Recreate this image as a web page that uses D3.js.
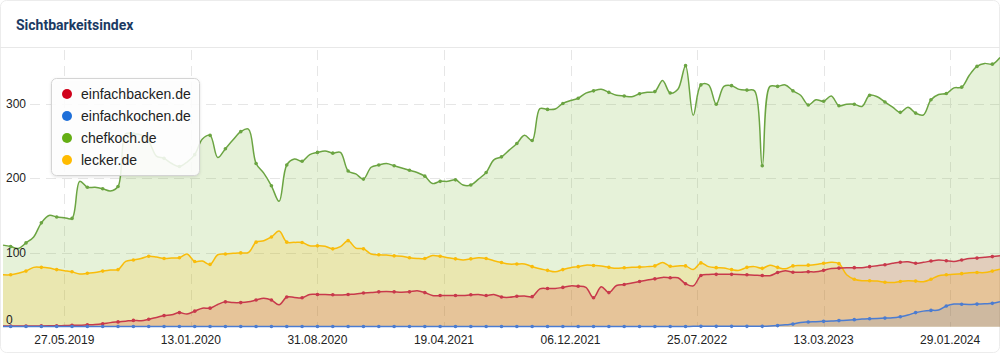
<!DOCTYPE html>
<html lang="de">
<head>
  <meta charset="UTF-8">
  <title>Sichtbarkeitsindex - D3</title>
  <script src="https://d3js.org/d3.v7.min.js"></script>
  <style>
    body {
      margin: 0;
      background-color: #fff;
    }
    svg { display: block; }

    .title {
      font-family: Roboto, "Liberation Sans", sans-serif;
      font-size: 14px;
      font-weight: bold;
      fill: #1b3a63;
    }

    .axis text {
      font-family: "Liberation Sans", Arial, sans-serif;
      font-size: 12px;
      fill: #222;
    }

    .grid line {
      stroke: #e6e6e6;
      stroke-dasharray: 10, 6;
    }

    .legend text {
      font-family: "Liberation Sans", Arial, sans-serif;
      font-size: 14px;
      fill: #222;
    }
  </style>
</head>
<body>
<script>
  // one sample every second week, weeks counted from the first data point
  var weeks = d3.range(0, 261, 2);

  var tickWeeks = [16, 49, 82, 115, 148, 181, 214, 247];
  var tickLabels = ["27.05.2019", "13.01.2020", "31.08.2020", "19.04.2021",
                    "06.12.2021", "25.07.2022", "13.03.2023", "29.01.2024"];
  var yTicks = [0, 100, 200, 300];

  var names = ["einfachbacken.de", "einfachkochen.de", "chefkoch.de", "lecker.de"];

  var einfachbacken = [
    0.8, 0.8, 0.9, 1, 1, 1.1, 1.2, 1.3, 1.5, 1.8,
    2, 2.5, 3, 4, 5.5, 6.5, 7.5, 8.5, 8, 10,
    12.5, 15, 16, 19, 17, 21, 25, 25, 30, 33.5,
    32.5, 32.5, 33.5, 36, 38.5, 36, 29.5, 40, 39.5, 39,
    43.5, 43.5, 43.5, 43, 42.7, 43.5, 44, 45.5, 46, 47,
    47.5, 47, 46.5, 47, 48.5, 46, 42, 42, 42, 42,
    42, 43, 43.5, 42, 43.5, 40, 39.6, 41, 41.5, 40.5,
    51, 51.5, 51.5, 53, 55, 54.5, 53, 39, 54, 46,
    55.5, 57, 59, 61, 63, 64.5, 66.5, 66, 66, 58,
    55, 69, 70.5, 70.6, 70.6, 70.6, 70.5, 70, 69.5, 69,
    68.8, 73, 75.5, 73.5, 73.5, 74, 74, 76, 78.5, 79,
    79.5, 79.6, 79.6, 81, 82.3, 83.5, 85.4, 87, 87.5, 85.5,
    86.8, 88.5, 90, 89, 88, 90, 92, 92.5, 93.5, 94.5,
    95.5
  ];

  var einfachkochen = [
    0.3, 0.3, 0.3, 0.3, 0.3, 0.3, 0.3, 0.3, 0.3, 0.3,
    0.3, 0.3, 0.3, 0.3, 0.3, 0.3, 0.3, 0.3, 0.3, 0.3,
    0.3, 0.3, 0.3, 0.3, 0.3, 0.3, 0.3, 0.3, 0.3, 0.3,
    0.3, 0.3, 0.3, 0.3, 0.3, 0.3, 0.3, 0.3, 0.3, 0.3,
    0.3, 0.3, 0.3, 0.3, 0.3, 0.3, 0.3, 0.3, 0.3, 0.3,
    0.3, 0.3, 0.3, 0.3, 0.3, 0.3, 0.3, 0.3, 0.3, 0.3,
    0.3, 0.3, 0.3, 0.3, 0.3, 0.3, 0.3, 0.3, 0.3, 0.3,
    0.3, 0.3, 0.3, 0.3, 0.3, 0.3, 0.3, 0.3, 0.3, 0.3,
    0.3, 0.3, 0.3, 0.3, 0.3, 0.3, 0.3, 0.3, 0.3, 0.3,
    0.5, 0.5, 0.5, 0.5, 0.5, 0.5, 0.5, 0.5, 0.5, 0.5,
    0.8, 1.5, 2.5, 3.5, 5.8, 6.3, 6.7, 7.2, 7.6, 8.2,
    8.8, 9.5, 10.3, 10.8, 11.2, 11.6, 12, 13.5, 15.8, 19,
    21, 22, 22.5, 28, 30.5, 30.3, 30, 30.5, 31, 31.5,
    33.5
  ];

  var chefkoch = [
    110, 108, 105.5, 113, 121, 140, 150, 148, 147, 146,
    196, 188, 188, 186, 183, 189, 260, 260, 258.5, 250,
    230, 227, 220, 216, 222, 232, 253, 258, 228, 240,
    252, 263, 266.5, 220, 207, 190, 169, 218, 226, 223,
    232, 235, 237, 234, 235, 210, 206, 199, 215, 218,
    220, 217, 214, 211, 208, 203, 193, 196, 196, 198,
    191, 191, 199, 208, 225, 229, 238, 247, 258, 251,
    294, 293, 293.5, 301, 305, 308, 315, 318, 320, 316,
    312, 311, 310, 314, 316, 317, 332, 315, 320, 352,
    285, 326, 326, 300, 324, 325, 320, 319, 318, 217,
    324, 324, 326, 318, 312, 299, 306, 304, 311, 298,
    300, 300, 297, 312, 310, 303, 296, 289, 296, 288,
    285.5, 306, 313, 314.5, 322, 323, 339, 351, 355, 354,
    363
  ];

  var lecker = [
    70, 70, 72, 75, 80, 80, 79, 77, 75.5, 74,
    71, 72, 73, 75, 76.5, 77, 88, 90, 92, 95,
    94, 92, 92.5, 93, 98, 88, 88.5, 84, 97, 98,
    99, 99.5, 100, 114, 116, 121, 129, 114, 113.7, 113.5,
    109, 109, 108.5, 105, 108, 116, 106, 105, 98, 97,
    96.6, 95.5, 95, 93, 92, 92, 96, 95, 93, 91.5,
    90, 91.5, 93, 92, 89, 86.5, 84.5, 84.5, 84.5, 81,
    78, 76, 74, 77, 79.6, 81, 83, 82.5, 81.8, 80,
    78.7, 79.5, 80, 80.5, 81, 82, 86.5, 81.5, 82, 82,
    77, 86, 81, 79.6, 79, 77, 76, 80, 81, 78.7,
    83, 80, 78, 82, 82.5, 83, 84, 85.5, 86.8, 85,
    70, 64, 62, 62, 61.5, 60, 59.5, 61, 62, 61.5,
    60.7, 64, 68.8, 70, 70.6, 71.5, 72.8, 73, 73, 75,
    77.5
  ];

  var dotColors  = ["#d0021b", "#1e6fd9", "#64ae14", "#ffbb00"];
  var lineColors = ["#c8394b", "#4b7cd1", "#6ba442", "#f9bc0a"];

  var width = 1000, height = 353;

  var series = names.map(function(n, i) {
    var vals = [einfachbacken, einfachkochen, chefkoch, lecker][i];
    return { name: n, dot: dotColors[i], line: lineColors[i],
             values: weeks.map(function(w, j) { return { w: w, v: vals[j] }; }) };
  });

  var x = d3.scaleLinear().domain([0, 260]).range([3, 1000]);
  var y = d3.scaleLinear().domain([0, 300]).range([326.7, 104.2]);

  var svg = d3.select("body")
              .append("svg")
              .attr("width", width)
              .attr("height", height);

  // card frame + title
  svg.append("rect")
     .attr("x", 0.5).attr("y", 0.5)
     .attr("width", width - 1).attr("height", height - 1)
     .attr("rx", 6)
     .attr("fill", "#fff")
     .attr("stroke", "#ececec");

  svg.append("text")
     .attr("class", "title")
     .attr("x", 16)
     .attr("y", 30)
     .text("Sichtbarkeitsindex");

  svg.append("line")
     .attr("x1", 0).attr("x2", width)
     .attr("y1", 47.5).attr("y2", 47.5)
     .attr("stroke", "#e8e8e8");

  // Gitter
  var grid = svg.append("g").attr("class", "grid");
  grid.selectAll(".hg")
      .data(yTicks.filter(d => d > 0))
      .enter().append("line")
      .attr("x1", 30).attr("x2", 1000)
      .attr("y1", d => Math.round(y(d)) + 0.5)
      .attr("y2", d => Math.round(y(d)) + 0.5);
  grid.selectAll(".vg")
      .data(tickWeeks)
      .enter().append("line")
      .attr("x1", d => Math.round(x(d)) + 0.5)
      .attr("x2", d => Math.round(x(d)) + 0.5)
      .attr("y1", 50).attr("y2", y(0));

  // Flächen (chefkoch hinten, dann lecker, einfachbacken, einfachkochen)
  var area = d3.area()
               .curve(d3.curveCatmullRom.alpha(0.5))
               .x(d => x(d.w))
               .y0(y(0))
               .y1(d => y(d.v));
  var line = d3.line()
               .curve(d3.curveCatmullRom.alpha(0.5))
               .x(d => x(d.w))
               .y(d => y(d.v));

  var order = [2, 3, 0, 1];
  var fillOpacity = [0.15, 0.12, 0.16, 0.19];

  svg.append("g")
     .selectAll("path")
     .data(order)
     .enter().append("path")
     .attr("d", i => area(series[i].values))
     .attr("fill", i => series[i].dot)
     .attr("fill-opacity", i => fillOpacity[i]);

  var lines = svg.append("g");
  order.forEach(function(i) {
    var s = series[i];
    lines.append("path")
         .attr("d", line(s.values))
         .attr("fill", "none")
         .attr("stroke", s.line)
         .attr("stroke-width", 1.5);
    lines.selectAll(".m" + i)
         .data(s.values.filter((d, j) => j % 2 === 1))
         .enter().append("circle")
         .attr("cx", d => x(d.w))
         .attr("cy", d => y(d.v))
         .attr("r", 1.8)
         .attr("fill", s.line);
  });

  // Achsen-Beschriftungen
  var axisY = svg.append("g").attr("class", "axis");
  axisY.selectAll("text")
       .data(yTicks)
       .enter().append("text")
       .attr("x", 6)
       .attr("y", d => y(d) + (d === 0 ? -2.5 : 4))
       .text(d => d);

  var axisX = svg.append("g").attr("class", "axis");
  axisX.selectAll("text")
       .data(tickWeeks)
       .enter().append("text")
       .attr("x", d => x(d))
       .attr("y", 344)
       .attr("text-anchor", "middle")
       .text((d, i) => tickLabels[i]);

  // Legende
  var defs = svg.append("defs");
  var f = defs.append("filter").attr("id", "shadow")
              .attr("x", "-10%").attr("y", "-10%")
              .attr("width", "130%").attr("height", "130%");
  f.append("feDropShadow")
   .attr("dx", 0).attr("dy", 1)
   .attr("stdDeviation", 1.5)
   .attr("flood-color", "#000")
   .attr("flood-opacity", 0.12);

  var legend = svg.append("g").attr("class", "legend");
  legend.append("rect")
        .attr("x", 51.5).attr("y", 78.5)
        .attr("width", 148).attr("height", 97)
        .attr("rx", 5)
        .attr("fill", "#fff")
        .attr("fill-opacity", 0.85)
        .attr("stroke", "#d4d4d4")
        .attr("filter", "url(#shadow)");

  var item = legend.selectAll(".item")
                   .data(series)
                   .enter().append("g")
                   .attr("transform", (d, i) => "translate(67," + (94 + i * 22) + ")");
  item.append("circle")
      .attr("r", 5)
      .attr("fill", d => d.dot);
  item.append("text")
      .attr("x", 14)
      .attr("y", 5)
      .text(d => d.name);
</script>
</body>
</html>
